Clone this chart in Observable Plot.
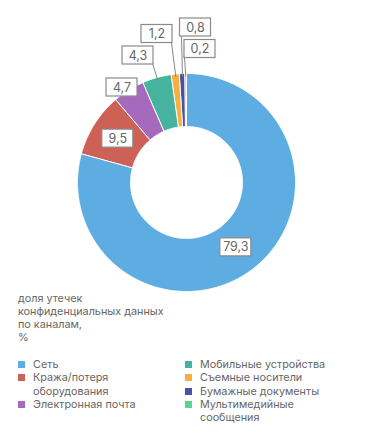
<!DOCTYPE html>
<html><head><meta charset="utf-8">
<script src="https://cdn.jsdelivr.net/npm/d3@7"></script>
<script src="https://cdn.jsdelivr.net/npm/@observablehq/plot@0.6"></script>
<style>
body{margin:0;background:#fff;font-family:Inter,"Open Sans",sans-serif;color:#666;}
#wrap{width:371px;}
.title{font-size:10.8px;margin-left:18px;}
.title div{height:13px;line-height:13px;}
.legend{display:flex;margin:14px 0 0 18px;font-size:10.8px;line-height:13.3px;}
.col{display:flex;flex-direction:column;}
.col.left{width:167px;}
.item{display:flex;align-items:flex-start;}
.item .tx div{height:13.3px;}
.sw{width:7px;height:7px;margin-top:3px;margin-right:8px;flex:none;}
</style></head><body><div id="wrap"></div>
<script>
const categories = ["Сеть", "Кража/потеря оборудования", "Электронная почта", "Мобильные устройства", "Съемные носители", "Бумажные документы", "Мультимедийные сообщения"];
const legendText = [["Сеть"], ["Кража/потеря", "оборудования"], ["Электронная почта"], ["Мобильные устройства"], ["Съемные носители"], ["Бумажные документы"], ["Мультимедийные", "сообщения"]];
const values = [79.3, 9.5, 4.7, 4.3, 1.2, 0.8, 0.2];
const valueLabels = ["79,3", "9,5", "4,7", "4,3", "1,2", "0,8", "0,2"];
const colors = ["#5DADE2", "#CD6155", "#A569BD", "#45B39D", "#F5B041", "#4C4FA8", "#58D68D"];
const titleLines = ["доля утечек", "конфиденциальных данных", "по каналам,", "%"];

// layout (pixels relative to the donut centre)
const cx = 186, cy = 182, R = 109, r0 = 56;
const labelLayout = [
  {centroid: true}, {centroid: true},
  {dx: -64.5, dy: -95},
  {dx: -48.5, dy: -127, ex: -34, ey: -119},
  {dx: -29.5, dy: -148.5, ex: -15, ey: -140},
  {dx: 9, dy: -155, ex: -5, ey: -146},
  {dx: 13.5, dy: -133.5, ex: -2, ey: -125}
];

const arcs = d3.pie().sort(null).value(d => d)(values);
const pts = [];
arcs.forEach((p, i) => {
  const a0 = p.startAngle, a1 = p.endAngle;
  const n = Math.max(2, Math.ceil((a1 - a0) / (Math.PI / 360)));
  for (let j = 0; j <= n; j++) { const a = a0 + (a1 - a0) * j / n; pts.push({cat: categories[i], x: R * Math.sin(a), y: -R * Math.cos(a)}); }
  for (let j = n; j >= 0; j--) { const a = a0 + (a1 - a0) * j / n; pts.push({cat: categories[i], x: r0 * Math.sin(a), y: -r0 * Math.cos(a)}); }
});

const labels = arcs.map((p, i) => {
  const mid = (p.startAngle + p.endAngle) / 2;
  const L = labelLayout[i];
  let lx, ly;
  if (L.centroid) { const rr = (R + r0) / 2 - 1; lx = rr * Math.sin(mid); ly = -rr * Math.cos(mid); }
  else { lx = L.dx; ly = L.dy; }
  return {label: valueLabels[i], lx, ly,
    sx: (R - 3) * Math.sin(mid), sy: -(R - 3) * Math.cos(mid),
    ex: L.ex, ey: L.ey, hasLink: L.ex !== undefined};
});

const chart = Plot.plot({
  width: 371, height: 292,
  margin: 0,
  style: {fontFamily: "Inter, 'Open Sans', sans-serif", background: "white"},
  x: {domain: [-R, R], range: [cx - R, cx + R], axis: null},
  y: {domain: [-R, R], range: [cy - R, cy + R], axis: null},
  color: {domain: categories, range: colors},
  marks: [
    Plot.line(pts, {x: "x", y: "y", z: "cat", fill: "cat", stroke: "white", strokeWidth: 1, curve: "linear-closed", strokeLinejoin: "round"}),
    Plot.link(labels.filter(d => d.hasLink), {x1: "sx", y1: "sy", x2: "ex", y2: "ey", stroke: "#888", strokeWidth: 1}),
    Plot.rect(labels, {x1: "lx", x2: "lx", y1: "ly", y2: "ly", insetLeft: -15.5, insetRight: -15.5, insetTop: -9, insetBottom: -9, fill: "white", stroke: "#8a8a8a", strokeWidth: 1.2}),
    Plot.text(labels, {x: "lx", y: "ly", text: "label", fontSize: 12.5, fill: "#666"})
  ]
});

const wrap = document.getElementById("wrap");
wrap.appendChild(chart);
const title = document.createElement("div");
title.className = "title";
titleLines.forEach(t => { const d = document.createElement("div"); d.textContent = t; title.appendChild(d); });
wrap.appendChild(title);
const legend = document.createElement("div");
legend.className = "legend";
const leftIdx = [0, 1, 2], rightIdx = [3, 4, 5, 6];
[leftIdx, rightIdx].forEach((idxs, c) => {
  const col = document.createElement("div");
  col.className = "col" + (c === 0 ? " left" : "");
  idxs.forEach(i => {
    const it = document.createElement("div");
    it.className = "item";
    const sw = document.createElement("span");
    sw.className = "sw"; sw.style.background = colors[i];
    const tx = document.createElement("div");
    tx.className = "tx";
    legendText[i].forEach(t => { const d = document.createElement("div"); d.textContent = t; tx.appendChild(d); });
    it.appendChild(sw); it.appendChild(tx);
    col.appendChild(it);
  });
  legend.appendChild(col);
});
wrap.appendChild(legend);
</script></body></html>
